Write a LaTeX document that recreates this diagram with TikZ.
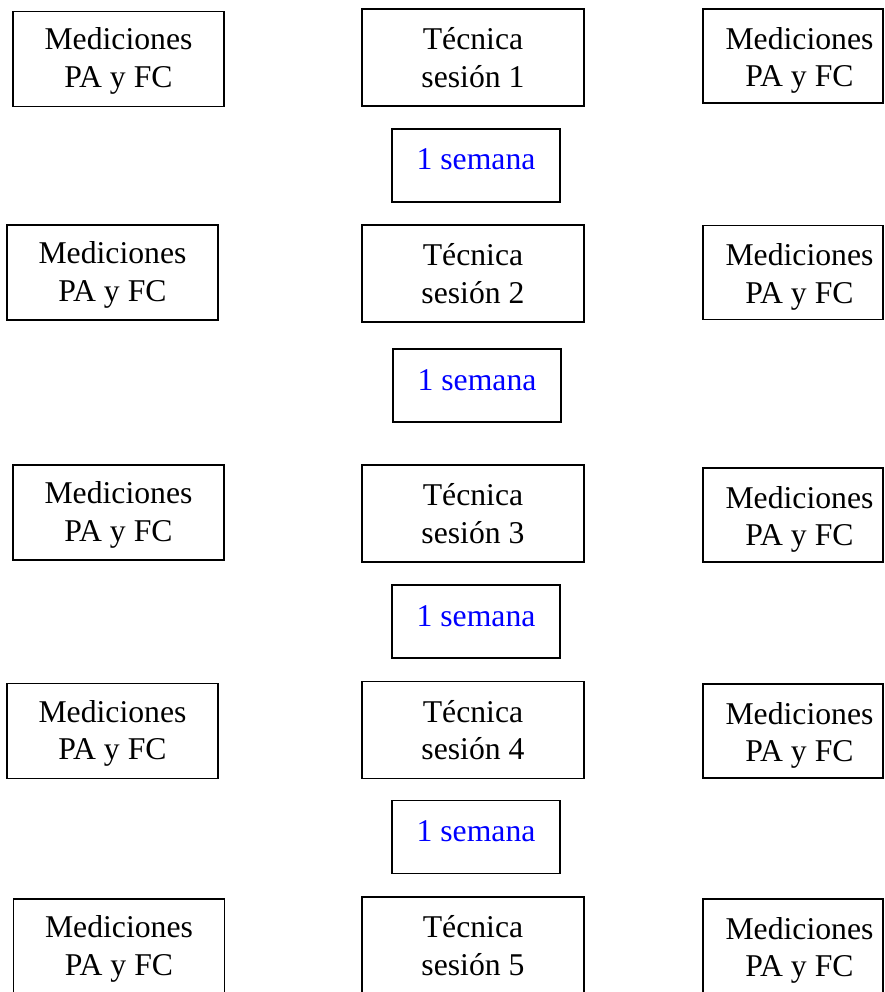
\documentclass[tikz,border=0pt]{standalone}
\usepackage{fontspec}
\setmainfont{Liberation Serif}
\usepackage{xcolor}
\usepackage{tikz}
\usetikzlibrary{positioning}

\begin{document}
\begin{tikzpicture}[x=1pt, y=-1pt, font=\fontsize{31.7}{37.5}\selectfont]
        \tikzset{
            medbox/.style={draw, rectangle, minimum width=211pt, minimum height=95pt, align=center, line width=1.8pt, inner sep=0pt, text height=59.5pt, text depth=2.5pt},
            tecbox/.style={draw, rectangle, minimum width=222pt, minimum height=97pt, align=center, line width=1.8pt, inner sep=0pt},
            sembox/.style={draw, rectangle, minimum width=168pt, minimum height=73pt, line width=1.8pt, inner sep=0pt, text=blue, text height=21pt, text depth=12pt},
            rbox/.style={draw, rectangle, minimum width=180pt, minimum height=94pt, line width=1.8pt, inner sep=0pt},
            rtext/.style={align=center, xshift=6.5pt, inner sep=0pt, text height=61.5pt, text depth=0pt}
        }
        \useasboundingbox (0,0) rectangle (885,992);

        % Left column
        \node [medbox] (med1l) at (118.5,59) {Mediciones\\PA y FC};
        \node [medbox] (med2l) at (112.5,272.5) {Mediciones\\PA y FC};
        \node [medbox] (med3l) at (118.5,512.5) {Mediciones\\PA y FC};
        \node [medbox] (med4l) at (112.5,731) {Mediciones\\PA y FC};
        \node [medbox] (med5l) at (119,946.5) {Mediciones\\PA y FC};

        % Middle column
        \node [tecbox] (tec1) at (473,57.5) {Técnica\\sesión 1};
        \node [sembox] (sem1) at (476,165.5) {1 semana};
        \node [tecbox] (tec2) at (473,273.5) {Técnica\\sesión 2};
        \node [sembox] (sem2) at (477,385.5) {1 semana};
        \node [tecbox] (tec3) at (473,513.5) {Técnica\\sesión 3};
        \node [sembox] (sem3) at (476,621.5) {1 semana};
        \node [tecbox] (tec4) at (473,730) {Técnica\\sesión 4};
        \node [sembox] (sem4) at (476,837) {1 semana};
        \node [tecbox] (tec5) at (473,945.5) {Técnica\\sesión 5};

        % Right column
        \node [rbox, label={[rtext]center:{Mediciones\\PA y FC}}] (med1r) at (793,56) {};
        \node [rbox, label={[rtext]center:{Mediciones\\PA y FC}}] (med2r) at (793,272.5) {};
        \node [rbox, label={[rtext]center:{Mediciones\\PA y FC}}] (med3r) at (793,515) {};
        \node [rbox, label={[rtext]center:{Mediciones\\PA y FC}}] (med4r) at (793,731) {};
        \node [rbox, label={[rtext]center:{Mediciones\\PA y FC}}] (med5r) at (793,946) {};
    \end{tikzpicture}
\end{document}
